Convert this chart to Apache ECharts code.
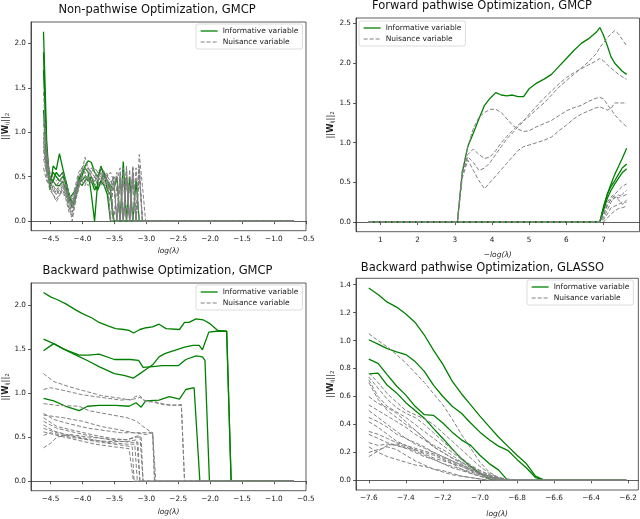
<!DOCTYPE html>
<html>
<head>
<meta charset="utf-8">
<script src="https://cdn.jsdelivr.net/npm/echarts@6/dist/echarts.min.js"></script>
<style>html,body{margin:0;padding:0;background:#fff}#chart{width:640px;height:519px}</style>
</head>
<body>
<div id="chart"></div>
<script>
// ---- panel 1: non-pathwise GMCP (log lambda grid) ----
var x1 = [-4.61,-4.56,-4.51,-4.46,-4.41,-4.36,-4.31,-4.26,-4.21,-4.16,-4.11,-4.06,-4.01,-3.96,-3.91,-3.86,-3.81,-3.76,-3.71,-3.66,-3.61,-3.56,-3.51,-3.46,-3.41,-3.36,-3.31,-3.26,-3.21,-3.16,-3.11,-3.06,-3.01,-0.69];
var p1Info = [
  [2.13,0.9,0.35,0.62,0.58,0.76,0.6,0.45,0.3,0.2,0.3,0.45,0.55,0.6,0.55,0.3,0,0.45,0.62,0.5,0.45,0.35,0,0,0,0,0,0,0,0,0,0,0,0],
  [1.9,0.7,0.5,0.45,0.55,0.5,0.55,0.4,0.25,0.15,0.25,0.4,0.5,0.62,0.68,0.66,0.55,0.5,0.6,0.55,0.45,0.4,0.35,0.5,0,0.67,0,0.5,0,0.46,0,0,0,0],
  [1.7,0.8,0.45,0.55,0.5,0.45,0.5,0.45,0.3,0.2,0.25,0.5,0.45,0.5,0.45,0.5,0.4,0.35,0.45,0.55,0.35,0.3,0,0,0,0,0,0,0,0,0,0,0,0],
  [1.25,0.6,0.4,0.45,0.4,0.4,0.45,0.35,0.25,0.3,0.35,0.45,0.4,0.45,0.5,0.45,0.35,0.4,0.45,0.4,0.3,0,0,0,0,0,0,0,0,0,0,0,0,0]
];
var p1Nuis = [
  [1.45,0.7,0.5,0.45,0.4,0.45,0.5,0.4,0.25,0.15,0.35,0.5,0.55,0.6,0.55,0.5,0.45,0.5,0.55,0.5,0.45,0.4,0.5,0.45,0.6,0,0.62,0,0.62,0,0.75,0.4,0,0],
  [1.2,0.8,0.45,0.4,0.35,0.4,0.45,0.35,0.2,0.1,0.3,0.45,0.5,0.55,0.5,0.45,0.5,0.45,0.5,0.45,0.4,0.45,0.35,0.55,0,0.6,0,0.58,0,0.6,0,0,0,0],
  [1.0,0.65,0.5,0.35,0.3,0.35,0.4,0.3,0.15,0.05,0.2,0.4,0.45,0.5,0.45,0.55,0.5,0.4,0.45,0.5,0.55,0,0.5,0,0.55,0,0.5,0,0.5,0,0,0,0,0],
  [0.9,0.55,0.4,0.3,0.25,0.3,0.35,0.3,0.2,0,0.25,0.35,0.55,0.72,0.6,0.5,0.45,0.55,0.5,0.45,0.4,0.35,0,0.4,0,0.45,0,0.4,0,0,0,0,0,0],
  [0.85,0.6,0.45,0.4,0.35,0.3,0.35,0.25,0.1,0.2,0.3,0.4,0.45,0.4,0.5,0.6,0.55,0.5,0.45,0.55,0.45,0.3,0.45,0,0.5,0,0.45,0,0.55,0,0.6,0,0,0],
  [0.8,0.5,0.35,0.3,0.22,0.28,0.4,0.3,0.22,0.25,0.3,0.45,0.4,0.45,0.5,0.45,0.4,0.45,0.4,0.5,0.45,0,0,0,0,0,0,0,0,0,0,0,0,0],
  [0.7,0.55,0.5,0.45,0.4,0.45,0.45,0.4,0.3,0.2,0.35,0.5,0.6,0.55,0.6,0.55,0.5,0.55,0.5,0.45,0.5,0.45,0.4,0.5,0.45,0,0.5,0,0.55,0,0.62,0,0,0],
  [0.6,0.45,0.4,0.35,0.3,0.35,0.3,0.28,0.15,0.1,0.25,0.4,0.5,0.45,0.4,0.45,0.5,0.45,0.55,0.4,0.35,0.4,0,0,0,0,0,0,0,0,0,0,0,0],
  [1.1,0.75,0.55,0.5,0.45,0.5,0.55,0.45,0.3,0.25,0.4,0.55,0.6,0.65,0.6,0.55,0.6,0.55,0.6,0.55,0.5,0.55,0.45,0,0.5,0,0.6,0,0.6,0,0.5,0,0,0],
  [0.95,0.6,0.42,0.38,0.32,0.38,0.42,0.35,0.25,0.18,0.3,0.42,0.48,0.52,0.48,0.42,0.45,0.5,0.48,0.42,0.38,0.42,0.5,0,0.48,0,0.5,0,0.45,0,0.6,0,0,0]
];

// ---- panel 2: forward pathwise GMCP (-log lambda) ----
var x2 = [0.69,3.07,3.2,3.35,3.5,3.65,3.8,3.95,4.1,4.25,4.4,4.55,4.7,4.85,5.0,5.2,5.4,5.6,5.8,6.0,6.2,6.4,6.6,6.8,6.9,7.0,7.1,7.2,7.3,7.4,7.5,7.62];
var p2Info = [
  [0,0,0.62,0.95,1.12,1.3,1.47,1.56,1.63,1.6,1.59,1.6,1.58,1.58,1.68,1.75,1.8,1.86,1.96,2.06,2.16,2.25,2.31,2.39,2.45,2.35,2.22,2.08,2.0,1.95,1.9,1.86]
];
var p2Nuis = [
  [0,0,0.6,0.85,0.92,0.85,0.8,0.82,0.9,1.0,1.08,1.15,1.22,1.28,1.33,1.42,1.5,1.6,1.7,1.78,1.86,1.94,2.02,2.12,2.2,2.26,2.32,2.37,2.41,2.37,2.3,2.22],
  [0,0,0.6,0.82,0.75,0.65,0.68,0.75,0.85,0.95,1.05,1.12,1.2,1.27,1.36,1.46,1.56,1.65,1.74,1.82,1.88,1.93,1.98,2.03,2.06,2.03,1.98,1.94,1.9,1.86,1.83,1.8],
  [0,0,0.65,0.95,1.18,1.32,1.38,1.42,1.42,1.38,1.3,1.22,1.17,1.14,1.15,1.2,1.24,1.28,1.34,1.4,1.44,1.47,1.52,1.56,1.57,1.55,1.48,1.42,1.35,1.3,1.25,1.2],
  [0,0,0.55,0.78,0.65,0.52,0.42,0.5,0.58,0.66,0.74,0.82,0.9,0.95,0.97,1.0,1.03,1.07,1.15,1.22,1.3,1.36,1.4,1.44,1.45,1.43,1.41,1.43,1.5,1.5,1.5,1.5]
];
var x2late = [0.69,6.9,7.0,7.1,7.2,7.3,7.4,7.5,7.62];
var p2InfoLate = [
  [0,0,0.18,0.35,0.48,0.6,0.7,0.8,0.93],
  [0,0,0.2,0.35,0.45,0.52,0.6,0.68,0.73],
  [0,0,0.15,0.3,0.4,0.48,0.55,0.62,0.67]
];
var p2NuisLate = [
  [0,0,0.12,0.25,0.32,0.35,0.4,0.45,0.48],
  [0,0,0.1,0.2,0.3,0.33,0.3,0.35,0.4],
  [0,0,0.08,0.22,0.28,0.3,0.34,0.32,0.35],
  [0,0,0.05,0.15,0.25,0.32,0.28,0.22,0.28],
  [0,0,0.03,0.1,0.18,0.2,0.22,0.25,0.25],
  [0,0,0,0.05,0.1,0.14,0.17,0.18,0.2]
];

// ---- panel 3: backward pathwise GMCP, [logλ, value] ----
var p3Info = [
  [[-4.61,2.14],[-4.5,2.09],[-4.4,2.06],[-4.26,2.01],[-4.1,1.94],[-4.0,1.9],[-3.85,1.85],[-3.74,1.8],[-3.6,1.76],[-3.48,1.73],[-3.35,1.72],[-3.27,1.71],[-3.2,1.68],[-3.1,1.72],[-3.0,1.74],[-2.9,1.75],[-2.8,1.78],[-2.69,1.73],[-2.48,1.72],[-2.4,1.8],[-2.33,1.8],[-2.22,1.84],[-2.11,1.83],[-2.01,1.79],[-1.88,1.71],[-1.74,1.7],[-1.67,0],[-0.69,0]],
  [[-4.61,1.48],[-4.53,1.52],[-4.45,1.56],[-4.3,1.5],[-4.1,1.43],[-3.9,1.36],[-3.74,1.3],[-3.5,1.22],[-3.35,1.2],[-3.2,1.17],[-3.1,1.22],[-3.0,1.27],[-2.9,1.32],[-2.8,1.41],[-2.7,1.45],[-2.53,1.49],[-2.4,1.52],[-2.27,1.54],[-2.17,1.54],[-2.12,1.49],[-2.02,1.69],[-1.9,1.7],[-1.74,1.7],[-1.67,0],[-0.69,0]],
  [[-4.61,1.61],[-4.45,1.56],[-4.3,1.5],[-4.05,1.43],[-3.9,1.43],[-3.74,1.44],[-3.5,1.38],[-3.25,1.38],[-3.12,1.37],[-3.05,1.29],[-2.9,1.3],[-2.75,1.31],[-2.5,1.31],[-2.38,1.38],[-2.22,1.42],[-2.12,1.41],[-2.08,1.37],[-2.01,0],[-0.69,0]],
  [[-4.61,0.94],[-4.45,0.91],[-4.26,0.85],[-4.05,0.8],[-3.92,0.85],[-3.74,0.86],[-3.48,0.86],[-3.27,0.85],[-3.16,0.89],[-3.08,0.84],[-3.01,0.91],[-2.8,0.92],[-2.64,0.96],[-2.48,0.93],[-2.38,1.04],[-2.25,1.06],[-2.22,1.06],[-2.16,0],[-0.69,0]]
];
var p3Nuis = [
  [[-4.61,1.22],[-4.45,1.13],[-4.2,1.07],[-4.0,1.03],[-3.7,0.97],[-3.4,0.94],[-3.25,0.92],[-3.17,0.96],[-3.1,0.97],[-3.04,0.92],[-2.9,0.9],[-2.75,0.87],[-2.6,0.86],[-2.45,0.87],[-2.4,0],[-0.69,0]],
  [[-4.61,1.04],[-4.5,1.06],[-4.3,1.03],[-4.0,0.98],[-3.7,0.95],[-3.4,0.92],[-3.2,0.93],[-3.1,0.95],[-3.0,0.9],[-2.85,0.9],[-2.7,0.87],[-2.5,0.86],[-2.45,0.86],[-2.4,0],[-0.69,0]],
  [[-4.61,0.88],[-4.4,0.86],[-4.05,0.85],[-3.9,0.8],[-3.6,0.76],[-3.3,0.72],[-3.15,0.68],[-3.05,0.62],[-2.95,0.57],[-2.9,0.55],[-2.85,0],[-0.69,0]],
  [[-4.61,0.77],[-4.45,0.7],[-4.2,0.65],[-3.9,0.6],[-3.6,0.57],[-3.4,0.55],[-3.2,0.55],[-3.05,0.55],[-2.9,0.55],[-2.87,0],[-0.69,0]],
  [[-4.61,0.72],[-4.4,0.62],[-4.1,0.57],[-3.8,0.52],[-3.5,0.48],[-3.3,0.47],[-3.15,0.5],[-3.08,0.5],[-3.05,0],[-0.69,0]],
  [[-4.61,0.68],[-4.4,0.6],[-4.1,0.55],[-3.8,0.5],[-3.5,0.46],[-3.2,0.44],[-3.13,0.44],[-3.1,0],[-0.69,0]],
  [[-4.61,0.64],[-4.45,0.57],[-4.2,0.52],[-3.9,0.48],[-3.6,0.44],[-3.3,0.42],[-3.18,0.42],[-3.14,0],[-0.69,0]],
  [[-4.61,0.6],[-4.4,0.55],[-4.1,0.5],[-3.8,0.45],[-3.5,0.42],[-3.3,0.4],[-3.22,0.39],[-3.19,0],[-0.69,0]],
  [[-4.61,0.56],[-4.4,0.52],[-4.1,0.47],[-3.8,0.42],[-3.5,0.39],[-3.27,0.37],[-3.2,0],[-0.69,0]],
  [[-4.61,0.52],[-4.5,0.55],[-4.2,0.5],[-3.9,0.47],[-3.6,0.45],[-3.3,0.45],[-3.15,0.47],[-3.1,0],[-0.69,0]],
  [[-4.61,0.38],[-4.5,0.43],[-4.4,0.5],[-4.2,0.53],[-3.9,0.5],[-3.6,0.48],[-3.3,0.47],[-3.2,0.5],[-3.1,0.52],[-3.05,0],[-0.69,0]],
  [[-4.61,0.75],[-4.3,0.72],[-4.0,0.68],[-3.7,0.62],[-3.4,0.58],[-3.2,0.55],[-3.0,0.53],[-2.9,0.55],[-2.87,0],[-0.69,0]]
];

// ---- panel 4: backward pathwise GLASSO ----
var x4 = [-7.6,-7.55,-7.5,-7.45,-7.4,-7.35,-7.3,-7.25,-7.2,-7.15,-7.1,-7.05,-7.0,-6.95,-6.9,-6.85,-6.8,-6.75,-6.7,-6.65,-6.21];
var p4Info = [
  [1.377,1.33,1.275,1.24,1.19,1.13,1.04,0.93,0.83,0.71,0.62,0.54,0.46,0.385,0.31,0.245,0.18,0.12,0.03,0,0],
  [1.006,0.975,0.943,0.92,0.9,0.85,0.78,0.68,0.6,0.53,0.48,0.41,0.345,0.29,0.245,0.215,0.15,0.09,0.02,0,0],
  [0.868,0.837,0.755,0.675,0.61,0.53,0.47,0.465,0.41,0.345,0.29,0.25,0.18,0.12,0.075,0,0,0,0,0,0],
  [0.762,0.767,0.68,0.626,0.556,0.5,0.445,0.37,0.3,0.225,0.155,0.1,0.05,0.01,0,0,0,0,0,0,0]
];
var p4Nuis = [
  [1.05,1.0,0.955,0.9,0.84,0.77,0.7,0.62,0.54,0.44,0.33,0.23,0.13,0.06,0.02,0,0,0,0,0,0],
  [0.77,0.7,0.62,0.56,0.5,0.47,0.44,0.4,0.34,0.28,0.22,0.16,0.1,0.05,0.02,0,0,0,0,0,0],
  [0.74,0.66,0.58,0.52,0.48,0.45,0.4,0.34,0.28,0.22,0.16,0.11,0.07,0.04,0.02,0.01,0,0,0,0,0],
  [0.72,0.6,0.53,0.49,0.45,0.4,0.35,0.3,0.25,0.2,0.15,0.1,0.06,0.03,0.01,0,0,0,0,0,0],
  [0.7,0.58,0.5,0.45,0.4,0.36,0.3,0.25,0.22,0.18,0.13,0.09,0.05,0.03,0.01,0,0,0,0,0,0],
  [0.6,0.55,0.52,0.48,0.42,0.36,0.3,0.24,0.2,0.16,0.13,0.1,0.07,0.04,0.02,0,0,0,0,0,0],
  [0.54,0.5,0.46,0.42,0.38,0.33,0.29,0.24,0.2,0.16,0.12,0.08,0.05,0.02,0,0,0,0,0,0,0],
  [0.45,0.42,0.38,0.33,0.3,0.27,0.24,0.2,0.17,0.14,0.11,0.08,0.05,0.03,0.01,0,0,0,0,0,0],
  [0.42,0.38,0.33,0.28,0.25,0.22,0.19,0.16,0.14,0.12,0.1,0.07,0.04,0.02,0.01,0,0,0,0,0,0],
  [0.35,0.33,0.3,0.27,0.25,0.23,0.21,0.19,0.16,0.13,0.1,0.07,0.05,0.03,0.01,0,0,0,0,0,0],
  [0.33,0.3,0.27,0.25,0.23,0.22,0.2,0.18,0.15,0.12,0.08,0.05,0.03,0.01,0,0,0,0,0,0,0],
  [0.27,0.25,0.26,0.25,0.23,0.2,0.17,0.15,0.12,0.1,0.08,0.06,0.04,0.02,0.01,0,0,0,0,0,0],
  [0.24,0.2,0.17,0.15,0.13,0.11,0.1,0.08,0.07,0.05,0.03,0.02,0.01,0,0,0,0,0,0,0,0],
  [0.2,0.22,0.24,0.22,0.18,0.14,0.11,0.08,0.06,0.04,0.03,0.02,0.01,0,0,0,0,0,0,0,0],
  [0.17,0.21,0.25,0.26,0.24,0.21,0.18,0.15,0.12,0.09,0.07,0.05,0.03,0.01,0,0,0,0,0,0,0],
  [0.5,0.45,0.4,0.35,0.3,0.26,0.23,0.2,0.17,0.14,0.11,0.08,0.05,0.03,0.01,0,0,0,0,0,0]
];

var titles = ['Non-pathwise Optimization, GMCP', 'Forward pathwise Optimization, GMCP',
              'Backward pathwise Optimization, GMCP', 'Backward pathwise Optimization, GLASSO'];
var xTicks = [
  [-4.5,-4.0,-3.5,-3.0,-2.5,-2.0,-1.5,-1.0,-0.5],
  [1,2,3,4,5,6,7],
  [-4.5,-4.0,-3.5,-3.0,-2.5,-2.0,-1.5,-1.0,-0.5],
  [-7.6,-7.4,-7.2,-7.0,-6.8,-6.6,-6.4,-6.2]
];
var yTicks = [
  [0,0.5,1.0,1.5,2.0],
  [0,0.5,1.0,1.5,2.0,2.5],
  [0,0.5,1.0,1.5,2.0],
  [0,0.2,0.4,0.6,0.8,1.0,1.2,1.4]
];
var xNames = ['log(λ)', '−log(λ)', 'log(λ)', 'log(λ)'];
var INFO = 'Informative variable', NUIS = 'Nuisance variable';

var FONT = 'DejaVu Sans';
var TXT = '#222';
var GREEN = '#008000', GREY = '#808080';

function pairs(xs, ys) {
  return ys.map(function (y, i) { return [xs[i], y]; });
}
function fmt(v, dec) {
  var s = Math.abs(v).toFixed(dec);
  return (v < 0 ? '\u2212' : '') + s;
}

var myChart = echarts.init(document.getElementById('chart'), null, { renderer: 'canvas' });

var grids = [
  { left: 30.7, top: 22, width: 275.3, height: 208.7 },
  { left: 356, top: 18, width: 283.5, height: 213.7 },
  { left: 30.7, top: 283, width: 275.3, height: 207.7 },
  { left: 356, top: 278.3, width: 286.5, height: 214 }
];
var xRange = [[-4.806, -0.497], [0.345, 7.965], [-4.806, -0.497], [-7.669, -6.145]];
var yRange = [[-0.107, 2.24], [-0.122, 2.57], [-0.107, 2.247], [-0.069, 1.446]];
var xDec = [1, 0, 1, 1];
var titlePos = [[157, 4.5], [482, 0], [157.5, 265.5], [482.5, 262]];
var xNameGap = [16, 19, 17, 20];
var legendPos = [[196, 24], [359, 21], [196, 285], [527, 280]];

var series = [];
function addLine(gi, data, informative) {
  series.push({
    name: informative ? INFO : NUIS,
    type: 'line',
    xAxisIndex: gi,
    yAxisIndex: gi,
    data: data,
    symbol: 'none',
    animation: false,
    lineStyle: informative
      ? { color: GREEN, width: 1.3 }
      : { color: GREY, width: 1, type: [4, 2] },
    itemStyle: { color: informative ? GREEN : GREY }
  });
}

p1Info.forEach(function (ys) { addLine(0, pairs(x1, ys), true); });
p1Nuis.forEach(function (ys) { addLine(0, pairs(x1, ys), false); });
p2Info.forEach(function (ys) { addLine(1, pairs(x2, ys), true); });
p2InfoLate.forEach(function (ys) { addLine(1, pairs(x2late, ys), true); });
p2Nuis.forEach(function (ys) { addLine(1, pairs(x2, ys), false); });
p2NuisLate.forEach(function (ys) { addLine(1, pairs(x2late, ys), false); });
p3Info.forEach(function (d) { addLine(2, d, true); });
p3Nuis.forEach(function (d) { addLine(2, d, false); });
p4Info.forEach(function (ys) { addLine(3, pairs(x4, ys), true); });
p4Nuis.forEach(function (ys) { addLine(3, pairs(x4, ys), false); });

var option = {
  backgroundColor: '#fff',
  animation: false,
  title: titles.map(function (t, i) {
    return {
      text: t, left: titlePos[i][0], top: titlePos[i][1], textAlign: 'center', padding: 0,
      textStyle: { fontFamily: FONT, fontSize: 11.5, fontWeight: 'normal', color: '#111' }
    };
  }),
  legend: legendPos.map(function (p) {
    return {
      left: p[0], top: p[1], orient: 'vertical', selectedMode: false,
      data: [
        { name: INFO, lineStyle: { color: GREEN, width: 1.3, type: 'solid' } },
        { name: NUIS, lineStyle: { color: GREY, width: 1, type: [4, 2] } }
      ],
      itemWidth: 17, itemHeight: 6, itemGap: 3,
      padding: [3, 4, 3, 4],
      borderColor: '#d4d4d4', borderWidth: 0.8, borderRadius: 2,
      backgroundColor: 'rgba(255,255,255,0.85)',
      itemStyle: { opacity: 0 },
      textStyle: { fontFamily: FONT, fontSize: 7.5, color: TXT }
    };
  }),
  grid: grids.map(function (g) {
    return Object.assign({ show: true, borderColor: '#333', borderWidth: 0.8, containLabel: false }, g);
  }),
  xAxis: grids.map(function (g, i) {
    return {
      type: 'value', gridIndex: i, min: xRange[i][0], max: xRange[i][1],
      name: xNames[i], nameLocation: 'middle', nameGap: xNameGap[i],
      nameTextStyle: { fontFamily: FONT, fontSize: 7.5, fontStyle: 'italic', color: TXT },
      axisLine: { show: true, lineStyle: { color: '#333', width: 0.8 } },
      splitLine: { show: false },
      axisTick: { show: true, length: 3, lineStyle: { color: '#333', width: 0.8 }, customValues: xTicks[i] },
      axisLabel: {
        customValues: xTicks[i], margin: 5, fontFamily: FONT, fontSize: 7.3, color: TXT,
        formatter: function (v) { return fmt(v, xDec[i]); }
      }
    };
  }),
  yAxis: grids.map(function (g, i) {
    return {
      type: 'value', gridIndex: i, min: yRange[i][0], max: yRange[i][1],
      name: '{t|||}{w|W}{s|ij}{t|||}{s|2}', nameLocation: 'middle', nameGap: 19, nameRotate: 90,
      nameTextStyle: {
        rich: {
          t: { fontFamily: FONT, fontSize: 8.5, color: TXT },
          w: { fontFamily: FONT, fontSize: 8.5, fontWeight: 'bold', color: TXT },
          s: { fontFamily: FONT, fontSize: 5.5, color: TXT, verticalAlign: 'bottom', lineHeight: 10 }
        }
      },
      axisLine: { show: true, lineStyle: { color: '#333', width: 0.8 } },
      splitLine: { show: false },
      axisTick: { show: true, length: 3, lineStyle: { color: '#333', width: 0.8 }, customValues: yTicks[i] },
      axisLabel: {
        customValues: yTicks[i], margin: 5, fontFamily: FONT, fontSize: 7.3, color: TXT,
        formatter: function (v) { return fmt(v, 1); }
      }
    };
  }),
  series: series
};

myChart.setOption(option);
</script>
</body>
</html>
